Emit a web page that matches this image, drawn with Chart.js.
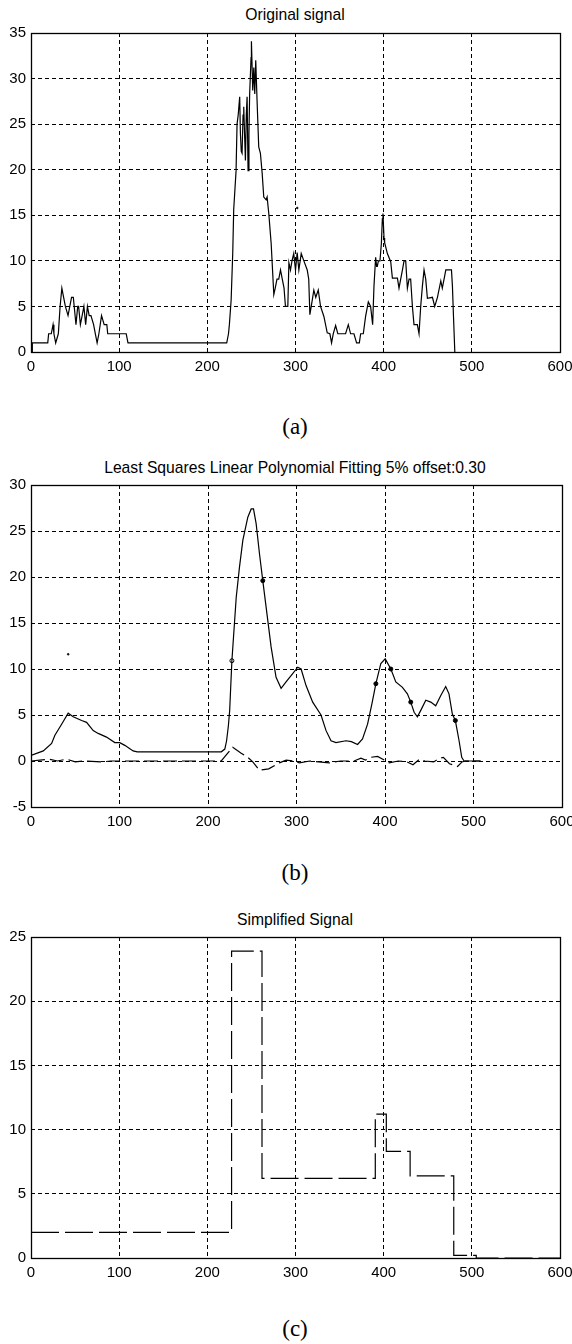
<!DOCTYPE html>
<html>
<head>
<meta charset="utf-8">
<script src="https://cdn.jsdelivr.net/npm/chart.js@4.4.1/dist/chart.umd.min.js"></script>
<style>
  html, body { margin: 0; padding: 0; background: #fff; }
  #page { position: relative; width: 572px; height: 1344px; overflow: hidden; }
  .panel { position: absolute; left: 0; width: 572px; }
  .ttl { position: absolute; left: 0; width: 590px; text-align: center; font: 15.7px "Liberation Sans", Arial, sans-serif; color: #000; line-height: 18px; }
  .cap { position: absolute; left: 0; width: 590px; text-align: center; font: 23px "Liberation Serif", "Times New Roman", serif; color: #000; line-height: 26px; }
</style>
</head>
<body>
<div id="page">
  <div class="ttl" style="top:6px">Original signal</div>
  <div class="panel" style="top:0"><canvas id="chart-a" width="572" height="390"></canvas></div>
  <div class="cap" style="top:414px">(a)</div>

  <div class="ttl" style="top:459px">Least Squares Linear Polynomial Fitting 5% offset:0.30</div>
  <div class="panel" style="top:440px"><canvas id="chart-b" width="572" height="400"></canvas></div>
  <div class="cap" style="top:860px">(b)</div>

  <div class="ttl" style="top:911px">Simplified Signal</div>
  <div class="panel" style="top:890px"><canvas id="chart-c" width="572" height="410"></canvas></div>
  <div class="cap" style="top:1316px">(c)</div>
</div>
<script>
// (a) original signal
const sigX = [0, 1.5, 1.5, 19, 20, 23, 25, 26, 28, 31, 33, 35, 37, 39, 42, 44, 46, 48, 49, 51, 53, 54, 56, 58, 60, 62, 64, 66, 68, 71, 73, 75, 77, 80, 83, 86, 87, 108, 110, 222,
  224, 225, 227, 228.8, 229.9, 232.6, 233.7, 235, 236.7, 237.5, 238.5, 239.4, 240.5, 241.3, 242.2, 243.2, 244.2, 245.1, 246.2, 247.2, 248, 249.6, 250, 251.5, 252.7, 253.8, 254.9, 256.4, 258.3, 260.2, 262.2, 264, 266.7, 267.8, 269.7, 272.4, 275.4,
  277, 279, 281, 283, 285, 287, 288.6, 291.3, 292.5, 294.3, 296, 298, 300, 301.9, 303.8, 306.5, 309.5, 313.3, 315, 316.3, 319, 320.8, 323, 325.8, 328.4, 332.2, 336, 339, 340.9, 342.8, 345.5, 348, 356.8, 359.9, 362.5, 366.3, 369.3, 372.4, 373.9, 376.9,
  379.5, 382.6, 385.2, 387.5, 389, 390.9, 392, 392.8, 394, 395.8, 397.4, 398.5, 399.2, 400.4, 401.1, 404.2, 408, 409.9, 415.6, 417.4, 419.3, 421.3, 423.1, 425, 426.9, 428.8, 430.6, 432.6, 434.4, 438.2, 440.1, 442, 443.9, 445.8, 447.7, 449.6, 455.3, 457.9, 461, 464.8, 466.5, 468.5, 470.5, 476.9, 478, 479.2, 480.7];
const sigY = [0, 0, 1, 1, 2, 2, 3, 2, 1, 2, 5, 7, 6, 5, 4, 5, 6, 6, 5, 3, 5, 5, 3, 4, 5, 3, 5, 4, 4, 3, 2, 1, 2, 4, 3, 3, 2, 2, 1, 1,
  2, 3, 5.7, 10.8, 15.6, 19.9, 25, 26, 28, 24, 22, 21.8, 26, 26.9, 24, 21, 26, 28, 19.9, 24, 28.3, 32.3, 34.1, 28.7, 31.2, 28.3, 32, 27.6, 22.5, 21.8, 19.6, 17, 16.7, 17, 15.2, 11.9, 6.3,
  7, 8, 8, 9, 8, 7, 5, 5, 9.8, 9, 10, 10.8, 9, 10.9, 9, 10.8, 10, 9, 8, 4.1, 5.7, 6.8, 6, 6.8, 5, 3.9, 2.1, 2, 1, 2, 2.9, 2, 2, 3, 2, 2, 1, 1, 2, 2,
  3.9, 5.5, 5, 3, 7.2, 10.4, 9.4, 9.4, 10, 10, 11.9, 14.6, 15.2, 12.5, 12, 10.8, 9.9, 8.1, 8.1, 7, 8, 9, 10, 10, 7, 8, 8, 5, 3, 3, 2, 5, 7.2, 9, 8, 5.9, 6, 5, 6, 7.8, 7, 8, 9, 9, 7.2, 3.9, 0];
const dotAX = [302];
const dotAY = [15.8];

// (b) least squares fit, residual and knots
const fitX = [0, 13.9, 23.3, 27, 34.6, 42, 47.7, 57.2, 62.8, 70.3, 75.9, 85.3, 94.7, 100.3, 106, 115.4, 120, 215, 219, 221, 223, 224.5, 225.5, 227,
  231.9, 235.6, 239.4, 245, 248.8, 251.4, 254.4, 258.2, 261.9, 265.7, 271.3, 276.9, 282.6, 288.2, 295.7, 301.4, 305.2, 310.8, 318.3, 327.7, 333.4, 339, 344.6, 355.9, 362, 369, 374.6, 380.3, 385.2, 389.7,
  395.3, 400.2, 406.6, 412.2, 419.7, 425.3, 429.1, 432.9, 436.6, 440.4, 446.1, 451.7, 457.3, 462.9, 468.6, 472.3, 476.1, 479.5, 483.7, 486.7, 489.3, 508];
const fitY = [0.6, 1.1, 1.9, 2.8, 4, 5.2, 4.8, 4.4, 4.2, 3.3, 3, 2.6, 2, 2, 1.7, 1.1, 1, 1, 1.3, 2.2, 3.8, 5.5, 7.7, 10.9,
  17.8, 21.1, 24, 26.5, 27.4, 27.4, 25.8, 22.5, 19.6, 16.7, 12.4, 9.1, 7.9, 8.6, 9.5, 10.2, 10, 8.2, 6.4, 5, 3.3, 2.2, 2, 2.2, 2.1, 1.8, 2.4, 4, 6.2, 8.4,
  10.6, 11.1, 10, 8.6, 8, 7.3, 6.4, 5.3, 4.8, 5.5, 6.6, 6.4, 6, 7.1, 8.1, 7.3, 5.1, 4.4, 2.2, 0.4, 0, 0];
const resX = [0, 10, 20, 30, 40, 50, 60, 80, 90, 215, 228, 237.5, 245, 250.6, 258.2, 268.6, 280.7, 288.3, 295.7, 303.3, 315, 337, 350, 365, 372.8, 378, 384.1, 391.6, 399.1, 404.7,
  415, 425, 431.6, 439.1, 445, 455, 461.6, 466, 472.8, 482, 487, 491, 508];
const resY = [0, 0.1, 0.2, 0, 0.2, -0.1, 0, -0.1, 0, 0, 1.5, 0.85, 0.4, -0.1, -1, -0.85, -0.2, 0.1, 0, -0.2, 0, -0.2, 0, 0, 0.3, 0.1, 0.4, 0.5, 0.1, -0.2,
  0, -0.1, -0.4, 0.2, 0, -0.1, 0.3, 0.4, -0.3, -0.6, -0.1, 0, 0];
const knotX = [227, 261.9, 389.7, 406.6, 429.1, 479.5];
const knotY = [10.9, 19.6, 8.4, 10, 6.4, 4.4];
const dotBX = [42];
const dotBY = [11.6];

// (c) simplified signal (step corners)
const simpX = [0, 227.5, 262, 390.5, 403, 430, 479.5, 505, 600];
const simpY = [2, 23.9, 6.2, 11.2, 8.3, 6.4, 0.2, 0, 0];

const xTicks = [0, 100, 200, 300, 400, 500, 600];

const TICK_FONT = { family: '"Liberation Sans", Arial, sans-serif', size: 15 };

function pts(xs, ys) {
  return xs.map((x, i) => ({ x, y: ys[i] }));
}

const boxPlugin = {
  id: 'box',
  afterDraw(chart) {
    const { ctx, chartArea: a } = chart;
    ctx.save();
    ctx.strokeStyle = '#000';
    ctx.lineWidth = 1.3;
    ctx.strokeRect(Math.round(a.left) + 0.5, Math.round(a.top) + 0.5, Math.round(a.right - a.left), Math.round(a.bottom - a.top));
    ctx.restore();
  },
};

function makeOptions({ yMin, yMax, padTop, padRight, xHeight, xPad }) {
  return {
    responsive: false,
    animation: false,
    layout: { padding: { top: padTop, right: padRight, left: 0, bottom: 0 } },
    plugins: { legend: { display: false }, tooltip: { enabled: false }, title: { display: false } },
    scales: {
      x: {
        type: 'linear',
        min: 0,
        max: 600,
        afterBuildTicks: (s) => { s.ticks = xTicks.map((v) => ({ value: v })); },
        afterFit: (s) => { s.height = xHeight; s.paddingLeft = 0; s.paddingRight = 0; },
        grid: { color: '#000', lineWidth: 1, drawTicks: false },
        border: { display: false, dash: [4, 3] },
        ticks: { color: '#000', font: TICK_FONT, padding: xPad, maxRotation: 0, autoSkip: false },
      },
      y: {
        min: yMin,
        max: yMax,
        afterFit: (s) => { s.width = 31; },
        grid: { color: '#000', lineWidth: 1, drawTicks: false },
        border: { display: false, dash: [4, 3] },
        ticks: { color: '#000', font: TICK_FONT, padding: 5, stepSize: 5 },
      },
    },
  };
}

function lineSet(data, extra) {
  return Object.assign({
    type: 'line',
    data,
    borderColor: '#000',
    borderWidth: 1.2,
    pointRadius: 0,
    tension: 0,
    fill: false,
  }, extra || {});
}

function dotSet(data, radius, bg) {
  return {
    type: 'scatter',
    data,
    borderColor: '#000',
    backgroundColor: bg || '#000',
    pointBackgroundColor: bg || '#000',
    borderWidth: 1,
    pointRadius: radius,
  };
}

new Chart(document.getElementById('chart-a'), {
  type: 'line',
  data: {
    datasets: [
      lineSet(pts(sigX, sigY)),
      dotSet(pts(dotAX, dotAY), 0.8),
    ],
  },
  options: makeOptions({ yMin: 0, yMax: 35, padTop: 33, padRight: 12, xHeight: 38, xPad: 6 }),
  plugins: [boxPlugin],
});

new Chart(document.getElementById('chart-b'), {
  type: 'line',
  data: {
    datasets: [
      lineSet(pts(fitX, fitY)),
      lineSet(pts(resX, resY), { borderDash: [14, 5] }),
      dotSet(pts(knotX, knotY), 2, knotX.map((_, i) => (i === 0 ? '#fff' : '#000'))),
      dotSet(pts(dotBX, dotBY), 0.8),
    ],
  },
  options: makeOptions({ yMin: -5, yMax: 30, padTop: 45, padRight: 10, xHeight: 33, xPad: 6 }),
  plugins: [boxPlugin],
});

new Chart(document.getElementById('chart-c'), {
  type: 'line',
  data: {
    datasets: [
      lineSet(pts(simpX, simpY), { stepped: 'before', borderDash: [28, 6] }),
    ],
  },
  options: makeOptions({ yMin: 0, yMax: 25, padTop: 47, padRight: 12, xHeight: 42, xPad: 6 }),
  plugins: [boxPlugin],
});
</script>
</body>
</html>
